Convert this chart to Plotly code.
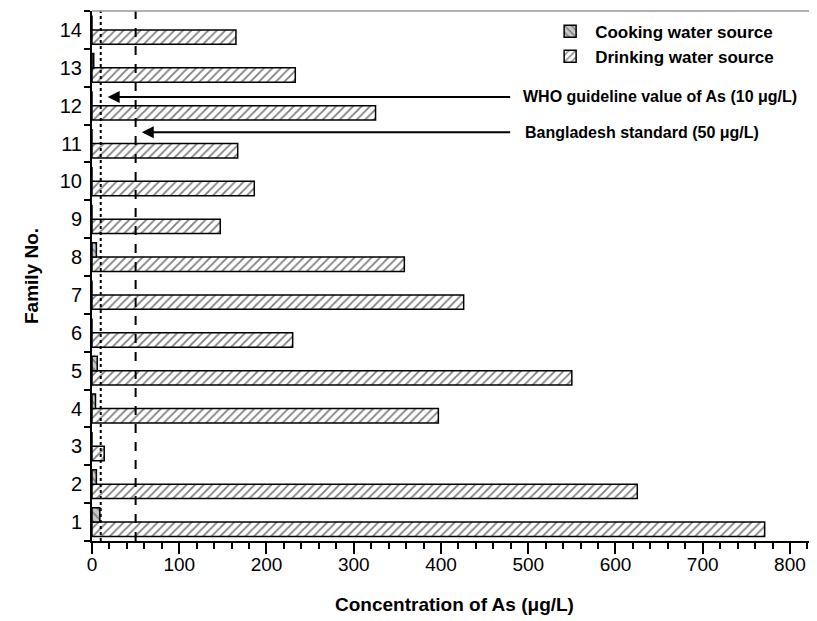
import plotly.graph_objects as go

families = list(range(1, 15))
drinking = [771, 625, 14, 397, 550, 230, 426, 358, 147, 186, 167, 325, 233, 165]
cooking = [9, 5, 0, 4, 6, 0, 0, 5, 0, 0, 0, 0, 2, 0]
x_ticks = list(range(0, 900, 100))
who_value = 10
bd_value = 50

FONT = "Liberation Sans, Arial, sans-serif"

fig = go.Figure()
fig.add_trace(go.Bar(
    y=families, x=drinking, orientation="h", name="Drinking water source",
    marker=dict(color="white", line=dict(color="black", width=1.5),
                pattern=dict(shape="/", fgcolor="black", bgcolor="white", size=6, solidity=0.3)),
))
fig.add_trace(go.Bar(
    y=families, x=cooking, orientation="h", name="Cooking water source",
    marker=dict(color="#c8c8c8", line=dict(color="black", width=1.5),
                pattern=dict(shape="\\", fgcolor="#333", bgcolor="#c8c8c8", size=6, solidity=0.3)),
))

fig.add_vline(x=who_value, line=dict(color="black", width=2, dash="dot"))
fig.add_vline(x=bd_value, line=dict(color="black", width=2, dash="dash"))
fig.add_shape(type="line", xref="paper", yref="paper", x0=0, x1=1, y0=1, y1=1,
              line=dict(color="#999", width=1.5))

fig.add_annotation(x=18, y=12.23, ax=481, ay=12.23, xref="x", yref="y", axref="x", ayref="y",
                   showarrow=True, arrowhead=2, arrowsize=1.2, arrowwidth=2, arrowcolor="black", text="")
fig.add_annotation(x=57, y=11.3, ax=481, ay=11.3, xref="x", yref="y", axref="x", ayref="y",
                   showarrow=True, arrowhead=2, arrowsize=1.2, arrowwidth=2, arrowcolor="black", text="")
fig.add_annotation(x=492, y=12.23, xref="x", yref="y", xanchor="left", showarrow=False,
                   text="WHO guideline value of As (10 μg/L)",
                   font=dict(family=FONT, size=16, color="black", weight="bold"))
fig.add_annotation(x=494, y=11.3, xref="x", yref="y", xanchor="left", showarrow=False,
                   text="Bangladesh standard (50 μg/L)",
                   font=dict(family=FONT, size=16, color="black", weight="bold"))

half = [i + 0.5 for i in range(0, 15)]

fig.update_layout(
    width=809, height=613,
    margin=dict(l=84, r=0, t=3, b=80),
    paper_bgcolor="white", plot_bgcolor="white",
    barmode="group", bargap=0.24, bargroupgap=0,
    font=dict(family=FONT, color="black"),
    showlegend=True,
    legend=dict(x=0.625, y=0.995, xanchor="left", yanchor="top", traceorder="reversed",
                font=dict(family=FONT, size=17, color="black", weight="bold"),
                bgcolor="rgba(0,0,0,0)", itemwidth=40, tracegroupgap=0),
    xaxis=dict(range=[0, 831], showgrid=False, zeroline=False, showline=True, automargin=False,
               linecolor="black", linewidth=2,
               tickvals=x_ticks, ticks="outside", ticklen=11, tickwidth=2, tickcolor="black",
               ticklabelstandoff=-6,
               tickfont=dict(family=FONT, size=19),
               minor=dict(dtick=20, ticks="outside", ticklen=6, tickwidth=1.5, tickcolor="black"),
               title=dict(text="Concentration of As (μg/L)", standoff=24,
                          font=dict(family=FONT, size=19, weight="bold"))),
    xaxis2=dict(range=[0, 831], overlaying="x", side="bottom", showgrid=False, zeroline=False,
                showline=False, tickvals=x_ticks, ticks="inside", ticklen=4, tickwidth=2,
                tickcolor="black", showticklabels=False, automargin=False),
    yaxis=dict(range=[0.5, 14.5], showgrid=False, zeroline=False, showline=True, automargin=False,
               linecolor="black", linewidth=2,
               tickvals=families, ticktext=[str(f) for f in families], ticks="",
               ticklabelstandoff=4,
               tickfont=dict(family=FONT, size=20),
               minor=dict(tickvals=half, ticks="outside", ticklen=6, tickwidth=2, tickcolor="black"),
               title=dict(text="Family No.", standoff=16,
                          font=dict(family=FONT, size=19, weight="bold"))),
    yaxis2=dict(range=[0.5, 14.5], overlaying="y", side="left", showgrid=False, zeroline=False,
                showline=False, tickvals=half, ticks="inside", ticklen=6, tickwidth=2,
                tickcolor="black", showticklabels=False, automargin=False),
)

fig.write_html("out.html")
